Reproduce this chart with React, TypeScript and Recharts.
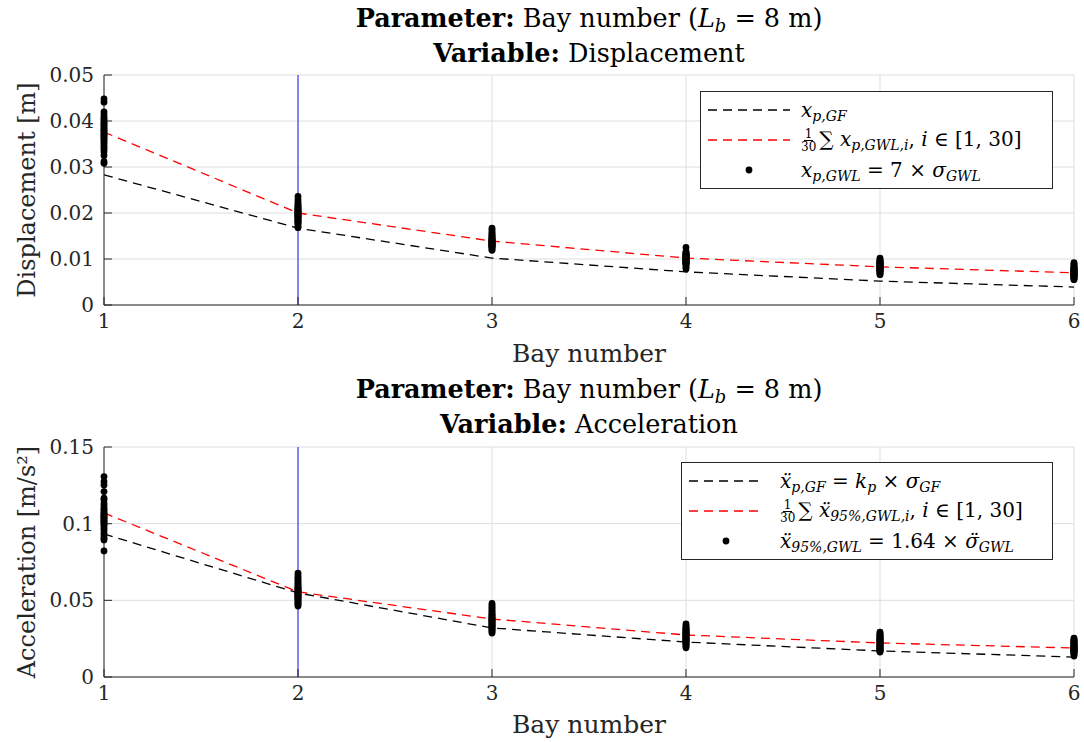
import React from "react";
import {
  ComposedChart,
  Line,
  Scatter,
  XAxis,
  YAxis,
  CartesianGrid,
  ReferenceLine,
} from "recharts";

// Bay numbers (x axis)
const BAYS = [1, 2, 3, 4, 5, 6];

// Displacement [m]
const DISP_GF = [0.0283, 0.0167, 0.0102, 0.0072, 0.0052, 0.0039];
const DISP_MEAN = [0.0376, 0.02, 0.0139, 0.0102, 0.0083, 0.007];
const DISP_GWL = [
  [0.0448, 0.0441, 0.042, 0.0415, 0.041, 0.0405, 0.0402, 0.0398, 0.0395, 0.0392, 0.0389, 0.0386, 0.0383, 0.038, 0.0378, 0.0375, 0.0372, 0.0369, 0.0366, 0.0363, 0.036, 0.0356, 0.0352, 0.0348, 0.0343, 0.0338, 0.0333, 0.0325, 0.0312, 0.0308],
  [0.0236, 0.0229, 0.0224, 0.022, 0.0217, 0.0214, 0.0212, 0.021, 0.0208, 0.0206, 0.0204, 0.0202, 0.0201, 0.02, 0.0199, 0.0198, 0.0196, 0.0195, 0.0193, 0.0191, 0.019, 0.0188, 0.0186, 0.0184, 0.0182, 0.018, 0.0178, 0.0175, 0.0171, 0.0168],
  [0.0167, 0.0163, 0.0159, 0.0156, 0.0153, 0.0151, 0.0149, 0.0147, 0.0145, 0.0144, 0.0142, 0.0141, 0.014, 0.0139, 0.0138, 0.0137, 0.0136, 0.0135, 0.0134, 0.0133, 0.0132, 0.0131, 0.013, 0.0129, 0.0128, 0.0127, 0.0126, 0.0124, 0.0122, 0.0119],
  [0.0125, 0.0116, 0.0114, 0.0112, 0.0111, 0.011, 0.0109, 0.0108, 0.0107, 0.0106, 0.0105, 0.0104, 0.0103, 0.0102, 0.0101, 0.01, 0.0099, 0.0098, 0.0097, 0.0096, 0.0095, 0.0094, 0.0093, 0.0092, 0.0091, 0.009, 0.0088, 0.0086, 0.0082, 0.0078],
  [0.0102, 0.0099, 0.0097, 0.0095, 0.0094, 0.0093, 0.0092, 0.0091, 0.009, 0.0089, 0.0088, 0.0087, 0.0086, 0.0085, 0.0084, 0.0083, 0.0082, 0.0081, 0.008, 0.0079, 0.0078, 0.0077, 0.0076, 0.0075, 0.0074, 0.0073, 0.0072, 0.007, 0.0068, 0.0066],
  [0.0092, 0.0089, 0.0087, 0.0085, 0.0083, 0.0081, 0.008, 0.0079, 0.0078, 0.0077, 0.0076, 0.0075, 0.0074, 0.0073, 0.0072, 0.0071, 0.007, 0.0069, 0.0068, 0.0067, 0.0066, 0.0065, 0.0064, 0.0063, 0.0062, 0.0061, 0.006, 0.0058, 0.0057, 0.0055],
];
const DISP_TICKS = [0, 0.01, 0.02, 0.03, 0.04, 0.05];

// Acceleration [m/s^2]
const ACC_GF = [0.0933, 0.0548, 0.032, 0.0228, 0.017, 0.013];
const ACC_MEAN = [0.107, 0.0555, 0.0378, 0.0274, 0.0222, 0.0189];
const ACC_GWL = [
  [0.1307, 0.1274, 0.1252, 0.1209, 0.1166, 0.1155, 0.113, 0.1115, 0.11, 0.109, 0.1078, 0.1068, 0.106, 0.1052, 0.1046, 0.104, 0.1035, 0.1024, 0.1018, 0.1013, 0.1003, 0.0995, 0.0985, 0.097, 0.0955, 0.0937, 0.092, 0.0905, 0.0894, 0.0822],
  [0.0678, 0.0665, 0.065, 0.064, 0.063, 0.062, 0.061, 0.06, 0.0592, 0.0585, 0.0578, 0.0572, 0.0566, 0.056, 0.0555, 0.055, 0.0545, 0.054, 0.0535, 0.053, 0.0525, 0.052, 0.0514, 0.0508, 0.0502, 0.0495, 0.0488, 0.048, 0.0472, 0.0463],
  [0.048, 0.0468, 0.0455, 0.0445, 0.0435, 0.0425, 0.0418, 0.041, 0.0404, 0.0398, 0.0392, 0.0387, 0.0382, 0.0377, 0.0372, 0.0367, 0.0362, 0.0357, 0.0352, 0.0347, 0.0342, 0.0337, 0.0332, 0.0327, 0.0322, 0.0316, 0.031, 0.0303, 0.0295, 0.0287],
  [0.0346, 0.0335, 0.0325, 0.0318, 0.0311, 0.0305, 0.03, 0.0295, 0.029, 0.0286, 0.0282, 0.0278, 0.0274, 0.027, 0.0266, 0.0262, 0.0258, 0.0254, 0.025, 0.0246, 0.0242, 0.0238, 0.0234, 0.023, 0.0225, 0.022, 0.0214, 0.0207, 0.0199, 0.019],
  [0.0293, 0.0285, 0.0278, 0.0272, 0.0266, 0.0261, 0.0256, 0.0252, 0.0248, 0.0244, 0.024, 0.0236, 0.0232, 0.0228, 0.0224, 0.022, 0.0216, 0.0212, 0.0208, 0.0204, 0.02, 0.0196, 0.0192, 0.0188, 0.0184, 0.018, 0.0176, 0.0172, 0.0168, 0.0163],
  [0.0254, 0.0246, 0.024, 0.0235, 0.023, 0.0226, 0.0222, 0.0218, 0.0214, 0.0211, 0.0208, 0.0205, 0.0202, 0.0199, 0.0196, 0.0193, 0.019, 0.0187, 0.0184, 0.0181, 0.0178, 0.0175, 0.0172, 0.0169, 0.0166, 0.0162, 0.0158, 0.0153, 0.0146, 0.0137],
];
const ACC_TICKS = [0, 0.05, 0.1, 0.15];

const SELECTED_BAY = 2;

const FONT = "'DejaVu Serif', serif";
const AXIS = "#262626";
const W = 1084;
const H = 371;

const toLine = (vals: number[]) => BAYS.map((x, i) => ({ x, y: vals[i] }));
const toDots = (groups: number[][]) =>
  groups.flatMap((g, i) => g.map((y) => ({ x: BAYS[i], y })));

const Dot = (p: any) => <circle cx={p.cx} cy={p.cy} r={3.4} fill="#000" />;

const I = ({ children }: { children: React.ReactNode }) => (
  <span style={{ fontStyle: "italic" }}>{children}</span>
);
const Sub = ({ children }: { children: React.ReactNode }) => (
  <span style={{ fontSize: "0.7em", fontStyle: "italic", position: "relative", top: "0.3em", lineHeight: 0 }}>{children}</span>
);
const Frac = () => (
  <span style={{ display: "inline-flex", flexDirection: "column", alignItems: "center", fontSize: 12, lineHeight: "12px", verticalAlign: "middle", margin: "0 3px 0 0" }}>
    <span style={{ borderBottom: "1px solid #000", padding: "0 1px" }}>1</span>
    <span>30</span>
  </span>
);

type Row = { kind: string; color?: string; label: React.ReactNode };

function LegendBox({ rows, left, top, width, sampleW, textX }: { rows: Row[]; left: number; top: number; width: number; sampleW: number; textX: number }) {
  return (
    <div style={{ position: "absolute", left, top, width, boxSizing: "border-box", border: "1px solid #262626", background: "#fff", padding: "3px 0", fontFamily: FONT, fontSize: 20, color: "#000" }}>
      {rows.map((r, i) => (
        <div key={i} style={{ display: "flex", alignItems: "center", height: 30 }}>
          <svg width={textX} height={20} style={{ flex: "none" }}>
            {r.kind === "line" ? (
              <line x1={7} x2={7 + sampleW} y1={10} y2={10} stroke={r.color} strokeWidth={1.5} strokeDasharray="9 6" />
            ) : (
              <circle cx={7 + sampleW / 2} cy={10} r={3.4} fill="#000" />
            )}
          </svg>
          <span style={{ whiteSpace: "nowrap" }}>{r.label}</span>
        </div>
      ))}
    </div>
  );
}

function Panel(props: {
  top: number;
  variable: string;
  yLabel: string;
  gf: number[];
  mean: number[];
  dots: number[][];
  ticks: number[];
  marginTop: number;
  legendRows: Row[];
  legendLeft: number;
  legendTop: number;
  legendWidth: number;
  sampleW: number;
  textX: number;
}) {
  const domain = [props.ticks[0], props.ticks[props.ticks.length - 1]];
  const xAxisH = H - props.marginTop - 230;
  return (
    <div style={{ position: "absolute", left: 0, top: props.top, width: W, height: H }}>
      <div style={{ position: "absolute", left: 104, width: 970, top: 1, textAlign: "center", fontFamily: FONT, fontSize: 25.5, lineHeight: "35px", color: "#000" }}>
        <div>
          <b>Parameter:</b> Bay number (<I>L</I><Sub>b</Sub> = 8 m)
        </div>
        <div>
          <b>Variable:</b> {props.variable}
        </div>
      </div>
      <ComposedChart width={W} height={H} margin={{ top: props.marginTop, right: 10, bottom: 0, left: 0 }}>
        <CartesianGrid stroke="#dedede" strokeWidth={1} />
        <XAxis
          dataKey="x"
          type="number"
          domain={[1, 6]}
          ticks={BAYS}
          interval={0}
          height={xAxisH}
          stroke={AXIS}
          tickSize={-8}
          tickMargin={17}
          tick={{ fill: AXIS, fontSize: 20, fontFamily: FONT }}
          label={{ value: "Bay number", position: "insideBottom", offset: 9, fill: AXIS, fontSize: 25, fontFamily: FONT }}
        />
        <XAxis xAxisId="top" dataKey="x" orientation="top" type="number" domain={[1, 6]} ticks={BAYS} interval={0} height={0} stroke={AXIS} tickSize={-8} tick={false} />
        <YAxis
          dataKey="y"
          type="number"
          domain={domain}
          ticks={props.ticks}
          interval={0}
          width={104}
          stroke={AXIS}
          tickSize={-8}
          tickMargin={18}
          tick={{ fill: AXIS, fontSize: 20, fontFamily: FONT }}
          tickFormatter={(v) => String(v)}
          label={{ value: props.yLabel, angle: -90, position: "insideLeft", offset: 26, fill: AXIS, fontSize: 24, fontFamily: FONT, style: { textAnchor: "middle" } }}
        />
        <YAxis yAxisId="right" dataKey="y" orientation="right" type="number" domain={domain} ticks={props.ticks} interval={0} width={0} stroke={AXIS} tickSize={-8} tick={false} />
        <ReferenceLine x={SELECTED_BAY} stroke="#0000ff" strokeOpacity={0.6} strokeWidth={1.5} />
        {/* invisible series so the box axes (top / right) get a scale */}
        <Line xAxisId="top" yAxisId="right" data={toLine(props.gf)} dataKey="y" stroke="none" dot={false} activeDot={false} isAnimationActive={false} />
        <Line data={toLine(props.gf)} dataKey="y" type="linear" stroke="#000" strokeWidth={1.3} strokeDasharray="9 6" dot={false} isAnimationActive={false} />
        <Line data={toLine(props.mean)} dataKey="y" type="linear" stroke="#ff0000" strokeWidth={1.3} strokeDasharray="9 6" dot={false} isAnimationActive={false} />
        <Scatter data={toDots(props.dots)} dataKey="y" shape={Dot} isAnimationActive={false} />
      </ComposedChart>
      <LegendBox rows={props.legendRows} left={props.legendLeft} top={props.legendTop} width={props.legendWidth} sampleW={props.sampleW} textX={props.textX} />
    </div>
  );
}

export default function App() {
  return (
    <div style={{ position: "relative", width: W, height: 742, background: "#fff" }}>
      <style>{"body{margin:0}"}</style>
      <Panel
        top={0}
        variable="Displacement"
        yLabel="Displacement [m]"
        gf={DISP_GF}
        mean={DISP_MEAN}
        dots={DISP_GWL}
        ticks={DISP_TICKS}
        marginTop={75}
        legendLeft={700}
        legendTop={91}
        legendWidth={353}
        sampleW={82}
        textX={100}
        legendRows={[
          { kind: "line", color: "#000", label: <I>x<Sub>p,GF</Sub></I> },
          { kind: "line", color: "#ff0000", label: <span><Frac />∑ <I>x<Sub>p,GWL,i</Sub></I>, <I>i</I> ∈ [1, 30]</span> },
          { kind: "dot", label: <span><I>x<Sub>p,GWL</Sub></I> = 7 × <I>σ<Sub>GWL</Sub></I></span> },
        ]}
      />
      <Panel
        top={371}
        variable="Acceleration"
        yLabel="Acceleration [m/s²]"
        gf={ACC_GF}
        mean={ACC_MEAN}
        dots={ACC_GWL}
        ticks={ACC_TICKS}
        marginTop={76}
        legendLeft={681}
        legendTop={91}
        legendWidth={372}
        sampleW={74}
        textX={98}
        legendRows={[
          { kind: "line", color: "#000", label: <span><I>ẍ<Sub>p,GF</Sub></I> = <I>k<Sub>p</Sub></I> × <I>σ<Sub>GF</Sub></I></span> },
          { kind: "line", color: "#ff0000", label: <span><Frac />∑ <I>ẍ<Sub>95%,GWL,i</Sub></I>, <I>i</I> ∈ [1, 30]</span> },
          { kind: "dot", label: <span><I>ẍ<Sub>95%,GWL</Sub></I> = 1.64 × <I>σ̈<Sub>GWL</Sub></I></span> },
        ]}
      />
    </div>
  );
}
